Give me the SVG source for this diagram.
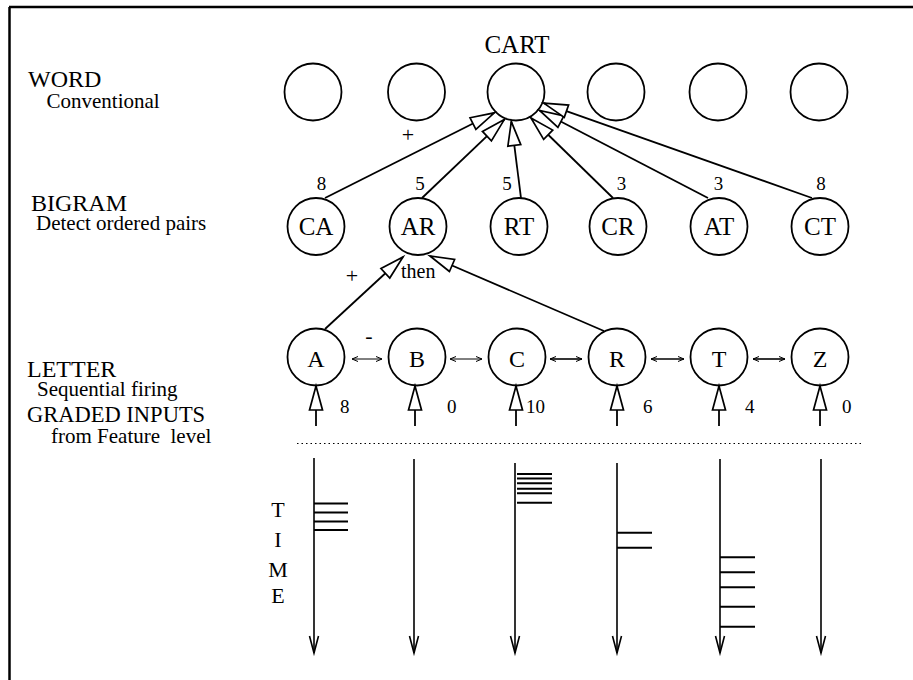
<svg xmlns="http://www.w3.org/2000/svg" width="913" height="680" viewBox="0 0 913 680">
<style>
text{font-family:"Liberation Serif","Times New Roman",serif;fill:#000}
.lbl{font-size:24px}
.sub{font-size:21px;white-space:pre}
.node{fill:#fff;stroke:#000;stroke-width:1.8}
.in{font-size:25px;text-anchor:middle}
.num{font-size:19px}
.w{font-size:19px;text-anchor:middle}
.conn{stroke:#000;stroke-width:1.8;fill:none}
.thin{stroke:#000;stroke-width:1;fill:none}
.mid{stroke:#000;stroke-width:1.6;fill:none}
.bar{stroke:#000;stroke-width:2}
.time{stroke:#000;stroke-width:1.6;fill:none}
</style>
<defs>
<marker id="tri" markerUnits="userSpaceOnUse" markerWidth="30" markerHeight="18" viewBox="-2 -9 30 18" refX="24" refY="0" orient="auto" overflow="visible">
<path d="M0,-6.5 L24,0 L0,6.5 Z" fill="#fff" stroke="#000" stroke-width="1.7"/>
</marker>
<marker id="vee" markerUnits="userSpaceOnUse" markerWidth="20" markerHeight="12" viewBox="-18 -6 20 12" refX="0" refY="0" orient="auto" overflow="visible">
<path d="M-17,-4.5 L0,0 L-17,4.5" fill="none" stroke="#000" stroke-width="1.6"/>
</marker>
<marker id="sm" markerUnits="userSpaceOnUse" markerWidth="8" markerHeight="6" viewBox="-7 -3 8 6" refX="0" refY="0" orient="auto-start-reverse" overflow="visible">
<path d="M-6,-2.5 L0,0 L-6,2.5" fill="none" stroke="#000" stroke-width="1"/>
</marker>
</defs>
<rect width="913" height="680" fill="#fff"/>
<g id="frame">
<line x1="9" y1="7" x2="913" y2="7" stroke="#000" stroke-width="2.5"/>
<line x1="9.5" y1="7" x2="9.5" y2="680" stroke="#000" stroke-width="2.5"/>
</g>
<g id="labels">
<text class="lbl" x="28" y="87">WORD</text>
<text class="sub" x="46.5" y="108">Conventional</text>
<text class="lbl" x="31" y="211">BIGRAM</text>
<text class="sub" x="36" y="230">Detect ordered pairs</text>
<text class="lbl" x="27" y="377">LETTER</text>
<text class="sub" x="37" y="396">Sequential firing</text>
<text class="lbl" x="27" y="422" style="font-size:22.5px">GRADED INPUTS</text>
<text class="sub" x="51" y="443">from Feature  level</text>
</g>
<g id="word-level">
<g id="w1"><circle class="node" cx="313" cy="92" r="28.5"/></g>
<g id="w2"><circle class="node" cx="416.5" cy="92" r="28.5"/></g>
<g id="w-cart"><circle class="node" cx="516" cy="92" r="28.5"/><text x="517" y="53" style="font-size:25px;text-anchor:middle">CART</text></g>
<g id="w4"><circle class="node" cx="616" cy="92" r="28.5"/></g>
<g id="w5"><circle class="node" cx="718" cy="92" r="28.5"/></g>
<g id="w6"><circle class="node" cx="819" cy="92" r="28.5"/></g>
</g>
<g id="bigram-level">
<g id="b-CA"><circle class="node" cx="316" cy="226.5" r="28.5"/><text class="in" x="316" y="235">CA</text></g>
<g id="b-AR"><circle class="node" cx="418" cy="226.5" r="28.5"/><text class="in" x="418" y="235">AR</text></g>
<g id="b-RT"><circle class="node" cx="519" cy="226.5" r="28.5"/><text class="in" x="519" y="235">RT</text></g>
<g id="b-CR"><circle class="node" cx="618" cy="226.5" r="28.5"/><text class="in" x="618" y="235">CR</text></g>
<g id="b-AT"><circle class="node" cx="719" cy="226.5" r="28.5"/><text class="in" x="719" y="235">AT</text></g>
<g id="b-CT"><circle class="node" cx="820" cy="226.5" r="28.5"/><text class="in" x="820" y="235">CT</text></g>
</g>
<g id="letter-level">
<g id="l-A"><circle class="node" cx="316" cy="357" r="28.5"/><text class="in" x="316" y="367" style="font-size:24px">A</text></g>
<g id="l-B"><circle class="node" cx="417" cy="357" r="28.5"/><text class="in" x="417" y="367" style="font-size:24px">B</text></g>
<g id="l-C"><circle class="node" cx="517" cy="357" r="28.5"/><text class="in" x="517" y="367" style="font-size:24px">C</text></g>
<g id="l-R"><circle class="node" cx="617" cy="357" r="28.5"/><text class="in" x="617" y="367" style="font-size:24px">R</text></g>
<g id="l-T"><circle class="node" cx="719" cy="357" r="28.5"/><text class="in" x="719" y="367" style="font-size:24px">T</text></g>
<g id="l-Z"><circle class="node" cx="820" cy="357" r="28.5"/><text class="in" x="820" y="367" style="font-size:24px">Z</text></g>
</g>
<g id="connectors">
<line class="conn" x1="325" y1="198" x2="494.4" y2="112.8" marker-end="url(#tri)"/>
<line class="conn" x1="422" y1="198" x2="504.3" y2="119.6" marker-end="url(#tri)"/>
<line class="conn" x1="521" y1="198" x2="511.3" y2="121.6" marker-end="url(#tri)"/>
<line class="conn" x1="613" y1="198" x2="531" y2="118" marker-end="url(#tri)"/>
<line class="conn" x1="708" y1="198" x2="539.6" y2="110.5" marker-end="url(#tri)"/>
<line class="conn" x1="812" y1="198" x2="543.8" y2="103.2" marker-end="url(#tri)"/>
<line class="conn" x1="325" y1="329" x2="403" y2="257" marker-end="url(#tri)"/>
<line class="conn" x1="604" y1="331" x2="430" y2="256" marker-end="url(#tri)"/>
<line class="thin" x1="352" y1="359" x2="382" y2="359" marker-start="url(#sm)" marker-end="url(#sm)"/>
<line class="thin" x1="450" y1="359" x2="482" y2="359" marker-start="url(#sm)" marker-end="url(#sm)"/>
<line class="mid" x1="550" y1="359" x2="582" y2="359" marker-start="url(#sm)" marker-end="url(#sm)"/>
<line class="mid" x1="651" y1="359" x2="684" y2="359" marker-start="url(#sm)" marker-end="url(#sm)"/>
<line class="mid" x1="753" y1="359" x2="785" y2="359" marker-start="url(#sm)" marker-end="url(#sm)"/>
<line class="conn" x1="316" y1="426" x2="316" y2="386" marker-end="url(#tri)"/>
<line class="conn" x1="415" y1="426" x2="415" y2="386" marker-end="url(#tri)"/>
<line class="conn" x1="516" y1="426" x2="516" y2="386" marker-end="url(#tri)"/>
<line class="conn" x1="617" y1="426" x2="617" y2="386" marker-end="url(#tri)"/>
<line class="conn" x1="719" y1="426" x2="719" y2="386" marker-end="url(#tri)"/>
<line class="conn" x1="820" y1="426" x2="820" y2="386" marker-end="url(#tri)"/>
</g>
<g id="connector-labels">
<text class="w" x="321.5" y="190">8</text>
<text class="w" x="420" y="190">5</text>
<text class="w" x="507" y="190">5</text>
<text class="w" x="621.5" y="190">3</text>
<text class="w" x="718.5" y="190">3</text>
<text class="w" x="821" y="190">8</text>
<text x="408" y="142" style="font-size:22px;text-anchor:middle">+</text>
<text x="352" y="283" style="font-size:22px;text-anchor:middle">+</text>
<text x="401" y="278" style="font-size:20px">then</text>
<text x="369" y="343" style="font-size:22px;text-anchor:middle">-</text>
<text class="num" x="340" y="413">8</text>
<text class="num" x="447" y="413">0</text>
<text class="num" x="526" y="413">10</text>
<text class="num" x="643" y="413">6</text>
<text class="num" x="745" y="413">4</text>
<text class="num" x="842" y="413">0</text>
</g>
<g id="time-chart">
<line x1="297" y1="443.5" x2="863" y2="443.5" stroke="#000" stroke-width="1" stroke-dasharray="1.5 3"/>
<text x="278" y="517" style="font-size:22px;text-anchor:middle">T</text>
<text x="278" y="547" style="font-size:22px;text-anchor:middle">I</text>
<text x="278" y="577" style="font-size:22px;text-anchor:middle">M</text>
<text x="278" y="603" style="font-size:22px;text-anchor:middle">E</text>
<line class="time" x1="314" y1="458" x2="314" y2="653" marker-end="url(#vee)"/>
<line class="time" x1="414" y1="459" x2="414" y2="653" marker-end="url(#vee)"/>
<line class="time" x1="515" y1="463" x2="515" y2="653" marker-end="url(#vee)"/>
<line class="time" x1="617" y1="463" x2="617" y2="653" marker-end="url(#vee)"/>
<line class="time" x1="720" y1="459" x2="720" y2="653" marker-end="url(#vee)"/>
<line class="time" x1="821" y1="459" x2="821" y2="653" marker-end="url(#vee)"/>
<g class="bar">
<line x1="314" y1="503.5" x2="348" y2="503.5"/>
<line x1="314" y1="512.5" x2="348" y2="512.5"/>
<line x1="314" y1="521.5" x2="348" y2="521.5"/>
<line x1="314" y1="530" x2="348" y2="530"/>
<line x1="517" y1="474" x2="552" y2="474"/>
<line x1="517" y1="478.5" x2="552" y2="478.5"/>
<line x1="517" y1="483.3" x2="552" y2="483.3"/>
<line x1="517" y1="488.7" x2="552" y2="488.7"/>
<line x1="517" y1="493.3" x2="552" y2="493.3"/>
<line x1="517" y1="502.7" x2="552" y2="502.7"/>
<line x1="617" y1="532.7" x2="652" y2="532.7"/>
<line x1="617" y1="547.7" x2="652" y2="547.7"/>
<line x1="720" y1="557.3" x2="755" y2="557.3"/>
<line x1="720" y1="572.3" x2="755" y2="572.3"/>
<line x1="720" y1="587.3" x2="755" y2="587.3"/>
<line x1="720" y1="606.7" x2="755" y2="606.7"/>
<line x1="720" y1="626.7" x2="755" y2="626.7"/>
</g>
</g>
</svg>
